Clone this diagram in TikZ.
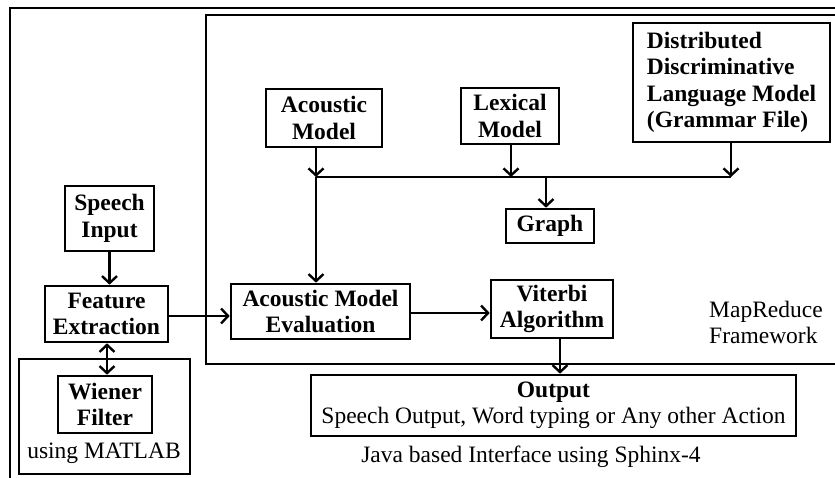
\documentclass[tikz,border=0pt]{standalone}
\usepackage{fontspec}
\setmainfont{Liberation Serif}
\usetikzlibrary{arrows.meta}
\tikzset{
  box/.style={draw, line width=2.6pt, inner sep=0pt, align=center,
    font=\bfseries\fontsize{23.5}{26.5}\selectfont},
  plain/.style={inner sep=0pt, font=\fontsize{23.5}{26}\selectfont},
  frame/.style={line width=2.6pt},
  arr/.style={line width=2.4pt, -{Straight Barb[length=7pt,width=15pt,line width=2.4pt]}},
  dblarr/.style={line width=2.4pt, {Straight Barb[length=7pt,width=15pt,line width=2.4pt]}-{Straight Barb[length=7pt,width=15pt,line width=2.4pt]}}
}
\begin{document}
\begin{tikzpicture}[x=1pt,y=-1pt]
\useasboundingbox (0,0) rectangle (835,478);
\clip (0,0) rectangle (835,478);

% outer frame and MapReduce frame (both run past the right edge)
\draw[frame] (10,490) -- (10,8) -- (850,8);
\draw[frame] (850,15) -- (206,15) -- (206,364) -- (850,364);
% MATLAB group
\draw[frame] (19,359) rectangle (190,474);

% blocks
\node[box, minimum width=116pt, minimum height=58pt] (am) at (324,118) {Acoustic\\Model};
\node[box, minimum width=98pt, minimum height=56pt] (lm) at (510,116) {Lexical\\Model};
\node[box, minimum width=197pt, minimum height=119pt, align=left] (dl) at (731.5,82.5)
  {Distributed\\Discriminative\\Language Model\\(Grammar File)};
\node[box, minimum width=88pt, minimum height=34pt] (gr) at (550,226) {Graph};
\node[box, minimum width=89pt, minimum height=65pt] (si) at (109.5,218.5) {Speech\\Input};
\node[box, minimum width=123pt, minimum height=56pt] (fe) at (106.5,314) {Feature\\Extraction};
\node[box, minimum width=179pt, minimum height=55pt] (ame) at (320.5,311.5) {Acoustic Model\\Evaluation};
\node[box, minimum width=122pt, minimum height=58pt] (vit) at (552,309) {Viterbi\\Algorithm};
\node[box, minimum width=94pt, minimum height=57pt] (wf) at (105,404.5) {Wiener\\Filter};
\node[box, minimum width=485pt, minimum height=61pt, font=\fontsize{23.5}{26.5}\selectfont] (out) at (553.5,405.5)
  {\textbf{Output}\\Speech Output, Word typing or Any other Action};

% labels
\node[plain, align=left, anchor=west] (mr) at (709,322) {MapReduce\\Framework};
\node[plain] (ml) at (104,453) {using MATLAB};
\node[plain] (jv) at (531,457) {Java based Interface using Sphinx-4};

% joining bus
\coordinate (b1) at (316,177);
\coordinate (b2) at (511,177);
\coordinate (b3) at (546,177);
\coordinate (b4) at (731,177);
\draw[line width=2.4pt] (b1) -- (b4);
\draw[arr] (am.south -| b1) -- (b1);
\draw[arr] (b1) -- (ame.north -| b1);
\draw[arr] (lm.south -| b2) -- (b2);
\draw[arr] (dl.south -| b4) -- (b4);
\draw[arr] (b3) -- (gr.north -| b3);

% main flow
\draw[arr] (si) -- (si.south |- fe.north);
\draw[arr] (fe.east |- 0,316) -- (ame.west |- 0,316);
\draw[arr] (ame.east |- 0,313) -- (vit.west |- 0,313);
\draw[arr] (vit.south -| 560,0) -- (out.north -| 560,0);
\draw[dblarr] (fe.south -| 107,0) -- (wf.north -| 107,0);
\end{tikzpicture}
\end{document}
